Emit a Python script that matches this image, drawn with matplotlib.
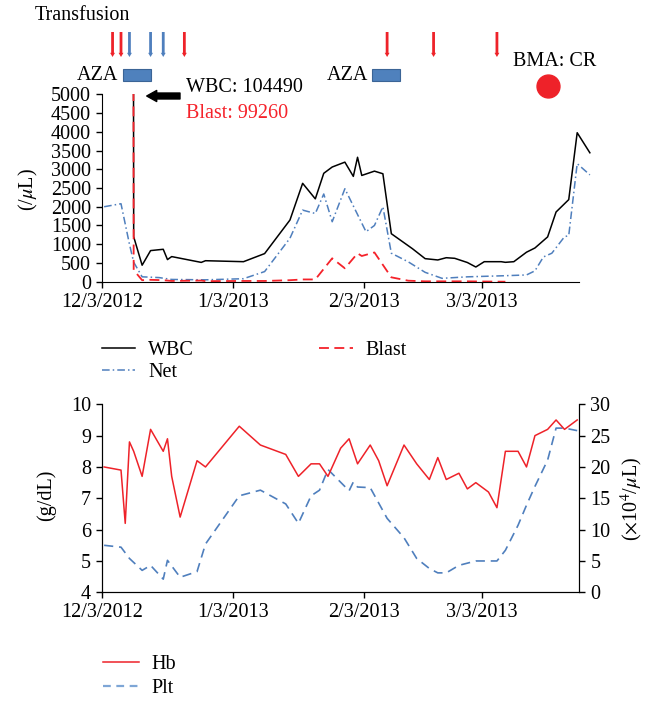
import numpy as np
import pandas as pd
import matplotlib
matplotlib.use("Agg")
import matplotlib.pyplot as plt
from matplotlib.patches import Rectangle
from matplotlib.lines import Line2D
from matplotlib.transforms import blended_transform_factory

plt.rcParams['font.family'] = ['Liberation Serif', 'DejaVu Serif']
plt.rcParams['mathtext.fontset'] = 'stix'
plt.rcParams['font.size'] = 14.5

# Tage nach dem 3.12.2012
start = pd.Timestamp("2012-12-03")
tick_days = [0, 31, 62, 90]
tick_labels = [f"{d.month}/{d.day}/{d.year}" for d in (start + pd.to_timedelta(tick_days, unit="D"))]

# --- oberes Diagramm: Leukozyten (/uL) ---
wbc_days = [6, 7, 9, 11, 14, 15, 16, 23, 24, 33, 38, 44, 47, 50, 52, 54, 57, 59, 60, 61,
            64, 66, 68, 73, 76, 79, 81, 83, 86, 88, 90, 94, 95, 97, 100, 102, 105, 107, 110, 112, 115]
wbc = [104490, 1200, 440, 830, 865, 590, 670, 515, 560, 534, 750, 1646, 2625, 2210, 2892, 3060, 3190, 2810, 3320, 2835,
       2950, 2880, 1280, 880, 615, 580, 640, 624, 512, 392, 534, 534, 517, 534, 787, 900, 1195, 1860, 2190, 3975, 3440]

net_days = [0, 4, 6, 7, 9, 13, 16, 24, 33, 38, 44, 47, 50, 52, 54, 57, 62, 64, 66, 68,
            72, 76, 80, 86, 95, 100, 102, 104, 106, 109, 110, 112, 115]
net = [2000, 2080, 1000, 520, 130, 110, 60, 50, 80, 270, 1160, 1910, 1820, 2340, 1600, 2480, 1334, 1500, 2000, 760,
       530, 250, 90, 130, 160, 180, 290, 660, 760, 1200, 1230, 3150, 2850]

blast_days = [6, 7, 9, 11, 14, 16, 23, 24, 33, 38, 44, 47, 50, 54, 57, 60, 61, 64, 68, 72, 76, 81, 86, 90, 95]
blast = [99260, 310, 40, 50, 40, 20, 30, 15, 20, 20, 40, 60, 60, 624, 357, 757, 686, 780, 117, 27, 10, 10, 10, 5, 0]

# Transfusionen, AZA-Zyklen, Knochenmark
rbc_tx_days = [2, 4, 19, 67, 78, 93]
plt_tx_days = [6, 11, 14]
aza_start = [5, 64]
aza_len = 6.5
bma_day = 105

# --- unteres Diagramm: Hb (g/dL) und Thrombozyten (x10^4/uL) ---
hb_days = [0, 4, 5, 6, 7, 9, 11, 14, 15, 16, 18, 22, 24, 32, 37, 43, 46, 49, 51, 53, 56, 58,
           60, 63, 65, 67, 71, 74, 77, 79, 81, 84, 86, 88, 91, 93, 95, 98, 100, 102, 105, 107, 109, 112]
hb = [8.0, 7.9, 6.2, 8.8, 8.5, 7.7, 9.2, 8.5, 8.9, 7.7, 6.4, 8.2, 8.0, 9.3, 8.7, 8.4, 7.7, 8.1, 8.1, 7.7, 8.6, 8.9,
      8.1, 8.7, 8.2, 7.4, 8.7, 8.1, 7.6, 8.3, 7.6, 7.8, 7.3, 7.5, 7.2, 6.7, 8.5, 8.5, 8.0, 9.0, 9.2, 9.5, 9.2, 9.5]

plt_days = [0, 4, 6, 9, 11, 14, 15, 18, 22, 24, 32, 37, 43, 46, 49, 51, 53, 58, 59, 60, 63,
            67, 71, 74, 77, 79, 81, 84, 88, 91, 93, 95, 98, 100, 102, 105, 107, 109, 112]
plt_cnt = [7.5, 7.2, 5.4, 3.5, 4.3, 2.1, 5.1, 2.4, 3.3, 7.7, 15.4, 16.3, 14.1, 11.0, 15.4, 16.3, 19.6, 16.2, 17.6, 16.8, 16.7,
           11.8, 8.7, 5.4, 3.8, 3.1, 3.1, 4.3, 5.0, 5.0, 5.0, 6.7, 10.7, 13.9, 16.9, 21.1, 26.2, 26.2, 25.8]

RED = "#ee2229"
BLUE = "#4f7fbd"
HALF = 0.5  # Werte in der Tagesmitte, wie bei Excel

W, H = 654, 704
fig = plt.figure(figsize=(W / 100, H / 100), dpi=100)


def fx(px):
    return px / W


def fy(py):
    return 1 - py / H


ppd = (579.3 - 102) / 113.0  # Pixel pro Tag

# ---------- oben ----------
ax1 = fig.add_axes([fx(102), fy(281.7), 116 * ppd / W, (281.7 - 94.3) / H])
d = lambda v: np.array(v) + HALF
ax1.plot(d(net_days), net, color=BLUE, lw=1.1, dashes=(5, 2, 1, 2), label="Net")
ax1.plot(d(wbc_days), wbc, color="black", lw=1.1, label="WBC")
ax1.plot(d(blast_days), blast, color="#f5222a", lw=1.3, dashes=(5.5, 3), label="Blast")
ax1.set_xlim(0, 116)
ax1.set_ylim(0, 5000)
ax1.set_yticks(np.arange(0, 5001, 500))
ax1.set_xticks(tick_days)
ax1.set_xticklabels(tick_labels)
ax1.spines['top'].set_visible(False)
ax1.spines['right'].set_visible(False)
ax1.spines['bottom'].set_bounds(0, 113)
ax1.tick_params(direction='out', length=4, width=1, pad=4)

tr = blended_transform_factory(ax1.transData, fig.transFigure)
for dd in rbc_tx_days + plt_tx_days:
    col = RED if dd in rbc_tx_days else BLUE
    ax1.annotate("", xy=(dd + HALF, fy(57)), xytext=(dd + HALF, fy(32)),
                 xycoords=('data', 'figure fraction'), textcoords=('data', 'figure fraction'),
                 annotation_clip=False,
                 arrowprops=dict(arrowstyle="simple,head_length=0.3,head_width=0.35,tail_width=0.2",
                                 color=col, mutation_scale=10, shrinkA=0, shrinkB=0, lw=0))
for s in aza_start:
    ax1.add_patch(Rectangle((s, fy(81)), aza_len, fy(69.3) - fy(81), transform=tr,
                            facecolor="#4f81bd", edgecolor="#3b6496", lw=0.8, clip_on=False))
    ax1.text(s - 1.1, fy(76), "AZA", transform=tr, ha='right', va='center')
ax1.plot([bma_day + HALF], [fy(86)], transform=tr, marker='o', ms=16.5, color=RED, clip_on=False)

fig.text(fx(35), fy(15), "Transfusion", ha='left', va='center')
fig.text(fx(513), fy(61.7), "BMA: CR", ha='left', va='center')
fig.text(fx(186), fy(87), "WBC: 104490", ha='left', va='center')
fig.text(fx(186), fy(113), "Blast: 99260", ha='left', va='center', color="#f5222a")
ax1.annotate("", xy=(146.7, H - 96), xytext=(180, H - 96), xycoords='figure pixels',
             textcoords='figure pixels',
             arrowprops=dict(arrowstyle="simple,head_length=7.2,head_width=8,tail_width=4.3",
                             color='black', mutation_scale=1, shrinkA=0, shrinkB=0))
fig.text(fx(28), fy(190), r"(/$\mu$L)", rotation=90, ha='center', va='center')

h1 = [Line2D([], [], color="black", lw=1.1),
      Line2D([], [], color=BLUE, lw=1.1, dashes=(5, 2, 1, 2)),
      Line2D([], [], color="#f5222a", lw=1.3, dashes=(5.5, 3))]
fig.legend(h1, ["WBC", "Net", "Blast"], ncol=2, loc='upper left', bbox_to_anchor=(fx(101.7), fy(341)),
           frameon=False, borderpad=0, borderaxespad=0, handlelength=1.66, handletextpad=0.66,
           columnspacing=6.2, labelspacing=0.15)

# ---------- unten ----------
ax2 = fig.add_axes([fx(102), fy(592.3), (579.3 - 102) / W, (592.3 - 404.3) / H])
ax3 = ax2.twinx()
ax2.plot(d(hb_days), hb, color=RED, lw=1.1, label="Hb")
ax3.plot(d(plt_days), plt_cnt, color=BLUE, lw=1.2, dashes=(5.5, 3.5), label="Plt")
ax2.set_zorder(ax3.get_zorder() + 1)
ax2.patch.set_visible(False)
ax2.set_xlim(0, 113)
ax2.set_ylim(4, 10)
ax2.set_yticks(np.arange(4, 11, 1))
ax3.set_ylim(0, 30)
ax3.set_yticks(np.arange(0, 31, 5))
ax2.set_xticks(tick_days)
ax2.set_xticklabels(tick_labels)
for a in (ax2, ax3):
    a.spines['top'].set_visible(False)
    a.tick_params(direction='out', length=4, width=1, pad=4)
fig.text(fx(46), fy(495), "(g/dL)", rotation=90, ha='center', va='center')
fig.text(fx(632), fy(499), r"($\times$10$^4$/$\mu$L)", rotation=90, ha='center', va='center')

h2 = [Line2D([], [], color=RED, lw=1.1), Line2D([], [], color="#7ea6d6", lw=1.6, dashes=(3.5, 2.5))]
fig.legend(h2, ["Hb", "Plt"], loc='upper left', bbox_to_anchor=(fx(103.3), fy(655)),
           frameon=False, borderpad=0, borderaxespad=0, handlelength=1.75, handletextpad=0.66,
           labelspacing=0.25)

fig.savefig("out.png", dpi=100)
